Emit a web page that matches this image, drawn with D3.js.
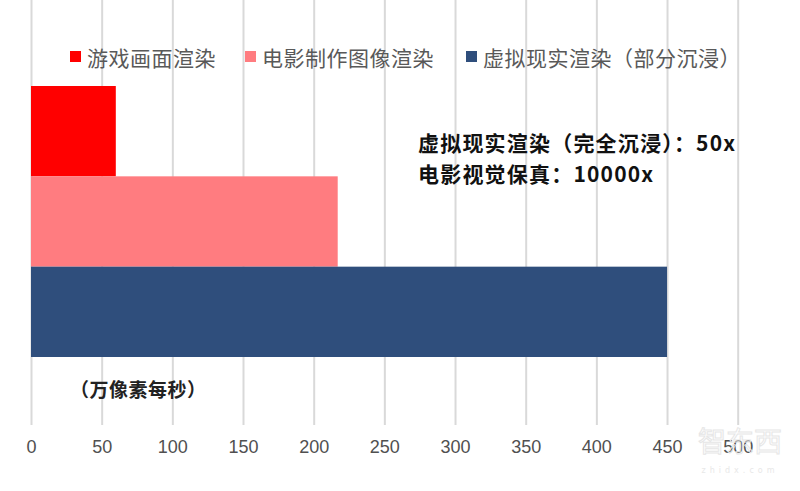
<!DOCTYPE html>
<html>
<head>
<meta charset="utf-8">
<script src="https://cdn.jsdelivr.net/npm/d3@7"></script>
<style>
  html, body { margin: 0; padding: 0; background: #fff; }
  svg { display: block; }
</style>
</head>
<body>
<svg id="chart" width="800" height="491"></svg>
<script>
const categories = ["游戏画面渲染", "电影制作图像渲染", "虚拟现实渲染（部分沉浸）"];
const values = [60, 217, 450];
const colors = ["#FF0000", "#FF7C80", "#2F4E7C"];
const xTicks = [0, 50, 100, 150, 200, 250, 300, 350, 400, 450, 500];
const notes = ["虚拟现实渲染（完全沉浸）：50x", "电影视觉保真：10000x"];
const unitLabel = "（万像素每秒）";

const svg = d3.select("#chart");
const cjk = "'Noto Sans CJK SC', 'Noto Sans', sans-serif";

const x = d3.scaleLinear().domain([0, 500]).range([31, 737.7]);
const y = d3.scaleBand().domain(categories).range([86, 357]).padding(0);
const color = d3.scaleOrdinal().domain(categories).range(colors);

// gridlines + tick labels
const gridBottom = 425;
const axis = d3.axisBottom(x).tickValues(xTicks).tickSize(-gridBottom).tickPadding(15).tickFormat(d3.format("d"));
const gAxis = svg.append("g").attr("transform", `translate(0,${gridBottom})`).call(axis);
gAxis.select(".domain").remove();
gAxis.selectAll(".tick line").attr("stroke", "#d9d9d9").attr("stroke-width", 2);
gAxis.selectAll(".tick text")
  .attr("fill", "#505050")
  .style("font-family", "'Liberation Sans', Arial, sans-serif")
  .style("font-size", "18px");

// bars
svg.append("g").selectAll("rect")
  .data(categories)
  .join("rect")
  .attr("x", x(0))
  .attr("y", d => y(d))
  .attr("width", (d, i) => x(values[i]) - x(0))
  .attr("height", y.bandwidth())
  .attr("fill", d => color(d));

// legend
const legendX = [70, 245, 466];
const legend = svg.append("g").selectAll("g")
  .data(categories)
  .join("g")
  .attr("transform", (d, i) => `translate(${legendX[i]},57)`);
legend.append("rect")
  .attr("x", 0).attr("y", -6).attr("width", 11).attr("height", 11)
  .attr("fill", d => color(d));
legend.append("text")
  .attr("x", 17).attr("y", 0)
  .attr("dominant-baseline", "central")
  .attr("fill", "#595959")
  .style("font-family", cjk)
  .style("font-size", "21px")
  .style("letter-spacing", "0.5px")
  .text(d => d);

// annotations
svg.append("g").selectAll("text")
  .data(notes)
  .join("text")
  .attr("x", 418)
  .attr("y", (d, i) => 142 + i * 31)
  .attr("dominant-baseline", "central")
  .attr("fill", "#111")
  .style("font-family", cjk)
  .style("font-weight", "bold")
  .style("font-size", "21px")
  .style("letter-spacing", "1.2px")
  .text(d => d);

svg.append("text")
  .attr("x", 70).attr("y", 388)
  .attr("dominant-baseline", "central")
  .attr("fill", "#222")
  .style("font-family", cjk)
  .style("font-weight", "bold")
  .style("font-size", "19px")
  .style("letter-spacing", "0.5px")
  .text(unitLabel);

// watermark
svg.append("text")
  .attr("x", 740).attr("y", 452)
  .attr("text-anchor", "middle")
  .attr("fill", "none")
  .attr("stroke", "#e6e6e6")
  .attr("stroke-width", 1)
  .style("font-family", cjk)
  .style("font-size", "28px")
  .text("智东西");
svg.append("text")
  .attr("x", 740).attr("y", 473)
  .attr("text-anchor", "middle")
  .attr("fill", "#e8e8e8")
  .style("font-family", "'DejaVu Sans', sans-serif")
  .style("font-size", "8px")
  .style("letter-spacing", "4px")
  .text("zhidx.com");
</script>
</body>
</html>
